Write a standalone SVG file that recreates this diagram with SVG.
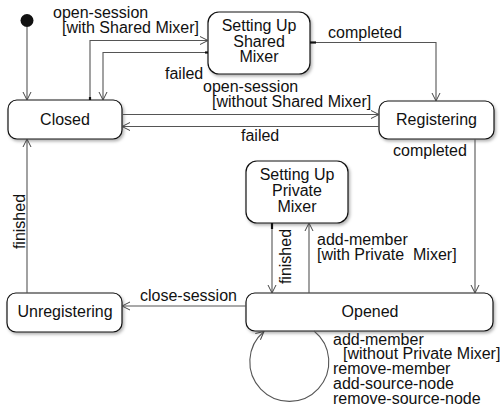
<svg xmlns="http://www.w3.org/2000/svg" width="503" height="416" viewBox="0 0 503 416">
  <defs>
    <marker id="arrow" viewBox="0 0 10 10" refX="9" refY="5" markerWidth="10" markerHeight="10" markerUnits="userSpaceOnUse" orient="auto">
      <path d="M1,1 L9,5 L1,9" fill="none" stroke="#444" stroke-width="1"/>
    </marker>
    <filter id="shadow" x="-10%" y="-20%" width="130%" height="160%">
      <feDropShadow dx="1.5" dy="2" stdDeviation="1.5" flood-color="#000" flood-opacity="0.3"/>
    </filter>
  </defs>
  <style>
    .state { fill: #fff; stroke: #111; stroke-width: 1.2; filter: url(#shadow); }
    .label { font-family: "Liberation Sans", Arial, sans-serif; font-size: 16px; fill: #111; }
    .name { text-anchor: middle; }
    .edge { fill: none; stroke: #555; stroke-width: 1.1; marker-end: url(#arrow); }
    .tail { stroke: #111; stroke-width: 2.2; }
  </style>

  <rect width="503" height="416" fill="#fff"/>

  <!-- initial pseudo-state -->
  <g id="initial">
    <circle cx="27" cy="20.5" r="6.5" fill="#111"/>
  </g>

  <g id="closed">
    <rect class="state" x="8" y="100" width="114" height="39" rx="9"/>
    <text class="label name" x="65" y="124.5">Closed</text>
  </g>

  <g id="setting-up-shared-mixer">
    <rect class="state" x="208" y="12" width="102" height="62" rx="11"/>
    <text class="label name" x="259" y="31">Setting Up</text>
    <text class="label name" x="259" y="46.5">Shared</text>
    <text class="label name" x="259" y="62">Mixer</text>
  </g>

  <g id="registering">
    <rect class="state" x="379" y="101" width="115" height="38" rx="9"/>
    <text class="label name" x="436.5" y="124.5">Registering</text>
  </g>

  <g id="setting-up-private-mixer">
    <rect class="state" x="246" y="161" width="102" height="62" rx="11"/>
    <text class="label name" x="297" y="180">Setting Up</text>
    <text class="label name" x="297" y="195.5">Private</text>
    <text class="label name" x="297" y="211.5">Mixer</text>
  </g>

  <g id="unregistering">
    <rect class="state" x="7" y="293" width="115" height="39" rx="9"/>
    <text class="label name" x="65" y="317">Unregistering</text>
  </g>

  <g id="opened">
    <rect class="state" x="246" y="293" width="247" height="38" rx="9"/>
    <text class="label name" x="370" y="317">Opened</text>
  </g>

  <g id="transitions">
    <!-- initial -> Closed -->
    <path class="edge" d="M27,27 V100"/>

    <!-- Closed -> Setting Up Shared Mixer -->
    <path class="edge" d="M90,100 V40.5 H208"/>
    <line class="tail" x1="90" y1="100" x2="90" y2="97"/>
    <text class="label" x="53" y="18">open-session</text>
    <text class="label" x="62" y="33">[with Shared Mixer]</text>

    <!-- Setting Up Shared Mixer -> Closed -->
    <path class="edge" d="M208,52.5 H103 V100"/>
    <line class="tail" x1="208" y1="52.5" x2="205" y2="52.5"/>
    <text class="label" x="165" y="79">failed</text>

    <!-- Setting Up Shared Mixer -> Registering -->
    <path class="edge" d="M310,42.5 H436 V101"/>
    <line class="tail" x1="310" y1="42.5" x2="316" y2="42.5"/>
    <text class="label" x="328" y="38">completed</text>

    <!-- Closed -> Registering -->
    <path class="edge" d="M122,114.5 H379"/>
    <text class="label" x="203" y="92">open-session</text>
    <text class="label" x="212" y="107">[without Shared Mixer]</text>

    <!-- Registering -> Closed -->
    <path class="edge" d="M379,126.5 H122"/>
    <text class="label" x="241" y="141">failed</text>

    <!-- Registering -> Opened -->
    <path class="edge" d="M475,139 V293"/>
    <text class="label" x="393" y="156">completed</text>

    <!-- Setting Up Private Mixer -> Opened -->
    <path class="edge" d="M272,223 V293"/>
    <line class="tail" x1="272" y1="223" x2="272" y2="229"/>
    <text class="label name" transform="translate(290.5,256.5) rotate(-90)">finished</text>

    <!-- Opened -> Setting Up Private Mixer -->
    <path class="edge" d="M309,293 V223"/>
    <text class="label" x="317" y="245">add-member</text>
    <text class="label" x="317" y="259.5" xml:space="preserve">[with Private  Mixer]</text>

    <!-- Opened -> Unregistering -->
    <path class="edge" d="M246,306 H122"/>
    <text class="label" x="140" y="301">close-session</text>

    <!-- Unregistering -> Closed -->
    <path class="edge" d="M27,293 V139"/>
    <text class="label name" transform="translate(24.5,221.5) rotate(-90)">finished</text>

    <!-- Opened self-transition -->
    <path class="edge" d="M314,331 A39.5,39.5 0 1 1 264,331.5" stroke="#333"/>
    <text class="label" x="333" y="344.5">add-member</text>
    <text class="label" x="343" y="359">[without Private Mixer]</text>
    <text class="label" x="333" y="374">remove-member</text>
    <text class="label" x="333" y="389">add-source-node</text>
    <text class="label" x="333" y="403.5">remove-source-node</text>
  </g>
</svg>
